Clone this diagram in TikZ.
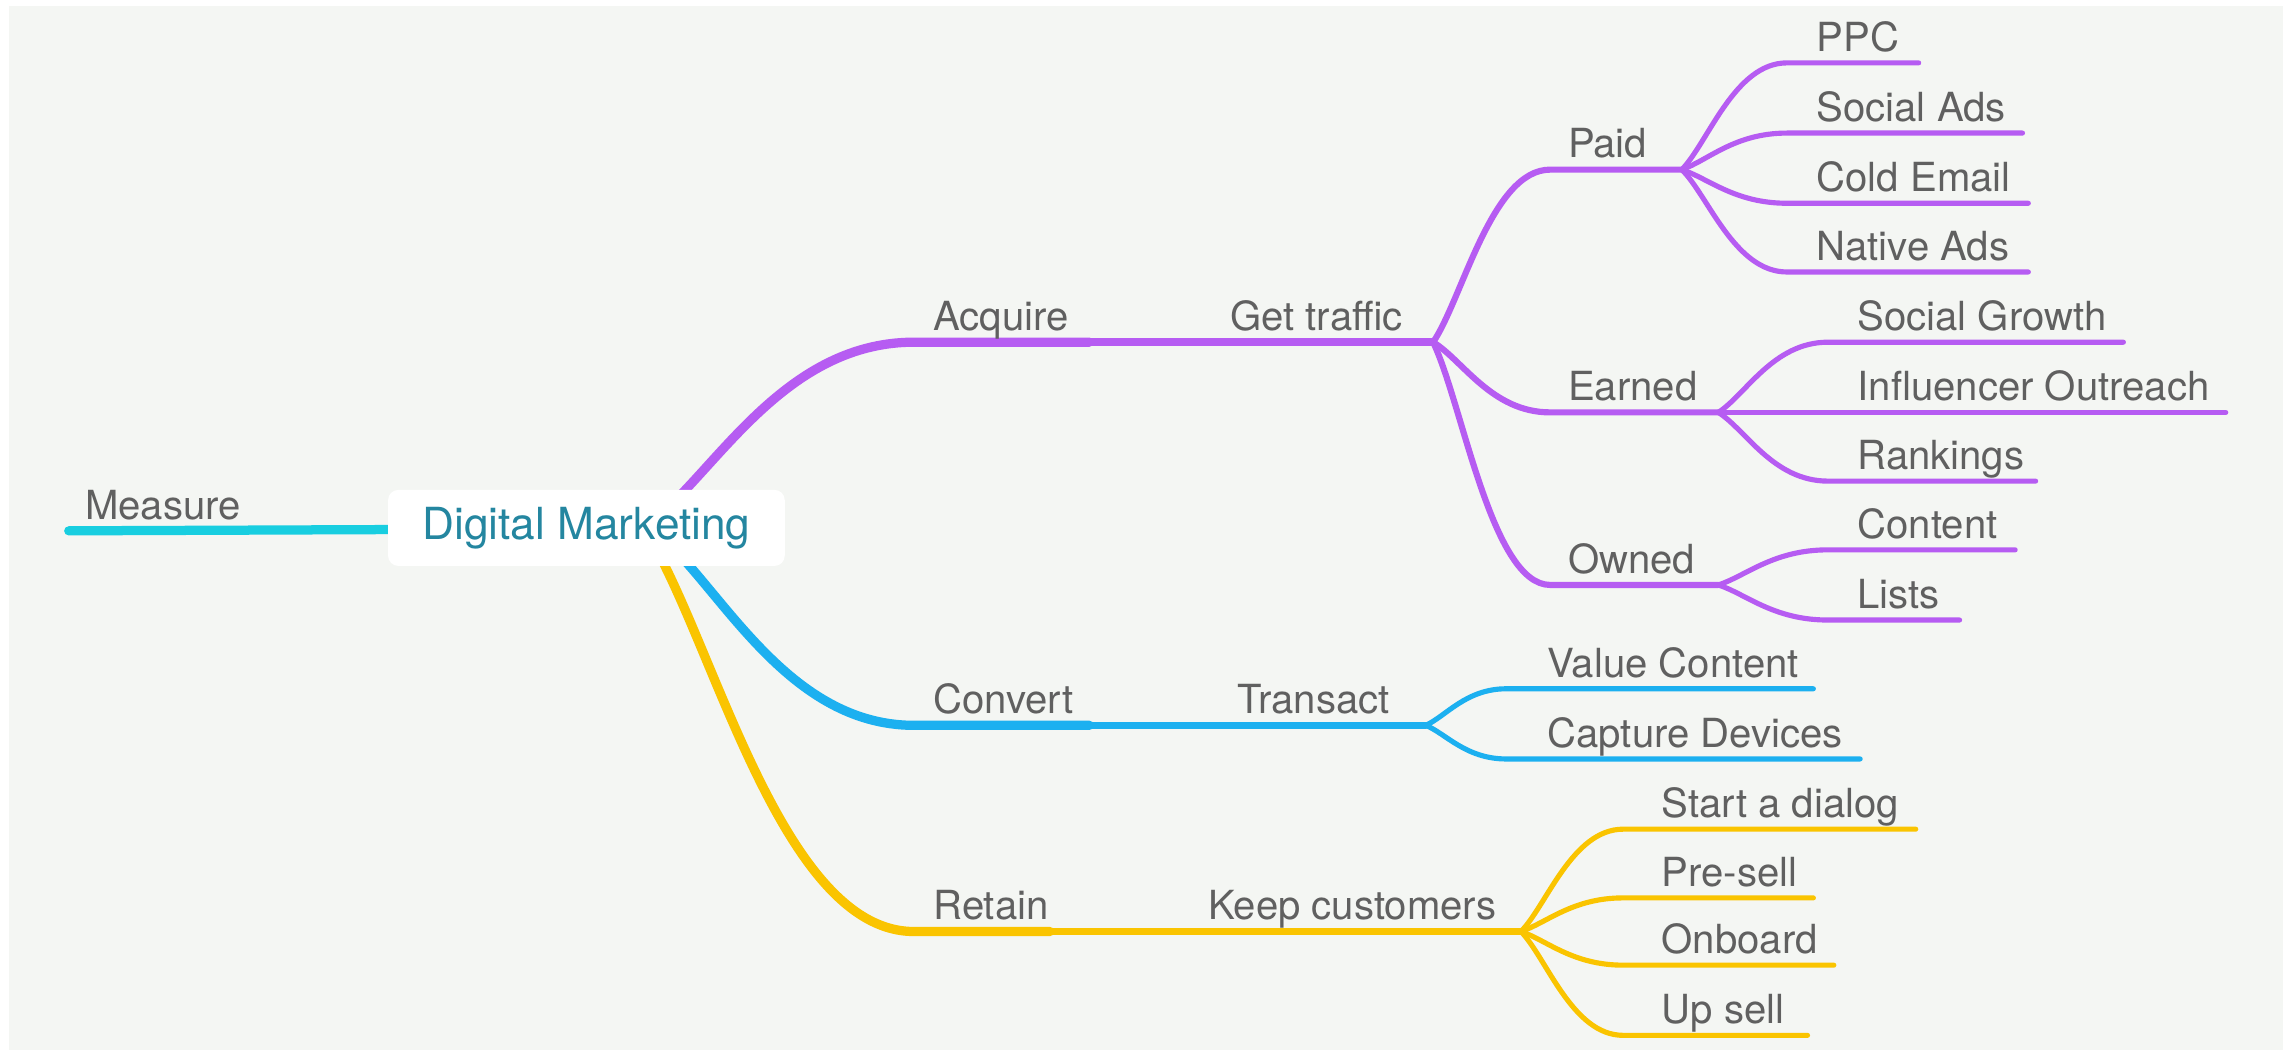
\documentclass[tikz,border=0pt]{standalone}
\usepackage{fontspec}
\setmainfont{TeX Gyre Heros}
\usetikzlibrary{calc}
\definecolor{cfondo}{RGB}{244,246,243}
\definecolor{cacq}{RGB}{182,92,242}
\definecolor{cconv}{RGB}{28,176,240}
\definecolor{cret}{RGB}{250,196,0}
\definecolor{cmed}{RGB}{24,206,224}
\definecolor{ctexto}{RGB}{96,96,96}
\definecolor{craiz}{RGB}{36,134,160}

\begin{document}
\begin{tikzpicture}[x=0.025cm, y=0.025cm, font=\fontsize{19.5}{22}\selectfont,
    twig/.style={to path={.. controls ($(\tikztostart)!0.25!(\tikztotarget)$)
      and ($(\tikztotarget)!0.5!(\tikztostart|-\tikztotarget)$) .. (\tikztotarget) \tikztonodes}},
    tronco/.style={line width=4.5pt, line cap=round},
    rama/.style={line width=3.6pt, line cap=round},
    sub/.style={line width=3pt, line cap=round},
    hoja/.style={line width=2.5pt, line cap=round},
    etiq/.style={anchor=base west, inner sep=0pt, text=ctexto},
    raiz/.style={fill=white, rounded corners=5pt, minimum width=6.78cm, minimum height=1.3cm,
      text=craiz, font=\fontsize{21.5}{24}\selectfont}]

  % --- Fondo ---
  \useasboundingbox (0,0) rectangle (1568,718);
  \fill[white] (0,0) rectangle (1568,718);
  \fill[cfondo] (6,0) rectangle (1561,714);

  % --- Puntos de la rama Acquire ---
  \coordinate (acq0) at (440,357);
  \coordinate (acq1) at (625,484);
  \coordinate (acq2) at (745,484);
  \coordinate (gt1) at (980,484);
  \coordinate (paid0) at (1060,602);   \coordinate (paid1) at (1150,602);
  \coordinate (earn0) at (1060,436);   \coordinate (earn1) at (1175,436);
  \coordinate (own0) at (1060,318);    \coordinate (own1) at (1175,318);
  \coordinate (ppc0) at (1222,675);    \coordinate (ppc1) at (1312,675);
  \coordinate (sads0) at (1222,627);   \coordinate (sads1) at (1383,627);
  \coordinate (cold0) at (1222,579);   \coordinate (cold1) at (1387,579);
  \coordinate (nads0) at (1222,532);   \coordinate (nads1) at (1387,532);
  \coordinate (sgr0) at (1250,484);    \coordinate (sgr1) at (1452,484);
  \coordinate (infl1) at (1522,436);
  \coordinate (rank0) at (1250,389);   \coordinate (rank1) at (1392,389);
  \coordinate (cont0) at (1250,342);   \coordinate (cont1) at (1378,342);
  \coordinate (list0) at (1250,294);   \coordinate (list1) at (1340,294);

  % --- Puntos de Convert y Retain ---
  \coordinate (conv0) at (445,357);
  \coordinate (conv1) at (625,222);
  \coordinate (conv2) at (745,222);
  \coordinate (tr1) at (975,222);
  \coordinate (val0) at (1030,247);    \coordinate (val1) at (1240,247);
  \coordinate (cap0) at (1030,199);    \coordinate (cap1) at (1272,199);
  \coordinate (ret0) at (440,357);
  \coordinate (ret1) at (625,81);
  \coordinate (ret2) at (718,81);
  \coordinate (kc1) at (1040,81);
  \coordinate (dlg0) at (1110,151);    \coordinate (dlg1) at (1310,151);
  \coordinate (pre0) at (1110,104);    \coordinate (pre1) at (1240,104);
  \coordinate (onb0) at (1110,58);     \coordinate (onb1) at (1254,58);
  \coordinate (up0) at (1110,10);      \coordinate (up1) at (1236,10);

  % --- Measure ---
  \coordinate (med0) at (47,355);
  \coordinate (med1) at (300,356);
  \draw[tronco, cmed] (med0) -- (med1);
  \node[etiq] (measure) at (58,363) {Measure};

  % --- Acquire (morado) ---
  \draw[tronco, cacq] (acq0) to[twig] (acq1) -- (acq2);
  \draw[rama, cacq] (acq2) -- (gt1);
  \draw[sub, cacq] (gt1) to[twig] (paid0) -- (paid1);
  \draw[sub, cacq] (gt1) to[twig] (earn0) -- (earn1);
  \draw[sub, cacq] (gt1) to[twig] (own0) -- (own1);
  \foreach \h in {ppc, sads, cold, nads}
    \draw[hoja, cacq] (paid1) to[twig] (\h0) -- (\h1);
  \foreach \h in {sgr, rank}
    \draw[hoja, cacq] (earn1) to[twig] (\h0) -- (\h1);
  \draw[hoja, cacq] (earn1) -- (infl1);
  \foreach \h in {cont, list}
    \draw[hoja, cacq] (own1) to[twig] (\h0) -- (\h1);

  % --- Convert (azul) ---
  \draw[tronco, cconv] (conv0) to[twig] (conv1) -- (conv2);
  \draw[rama, cconv] (conv2) -- (tr1);
  \foreach \h in {val, cap}
    \draw[hoja, cconv] (tr1) to[twig] (\h0) -- (\h1);

  % --- Retain (amarillo) ---
  \draw[tronco, cret] (ret0) to[twig] (ret1) -- (ret2);
  \draw[rama, cret] (ret2) -- (kc1);
  \foreach \h in {dlg, pre, onb, up}
    \draw[hoja, cret] (kc1) to[twig] (\h0) -- (\h1);

  % --- Nodo central ---
  \node[raiz] (dm) at (401,357) {Digital Marketing};

  % --- Etiquetas ---
  \node[etiq] (acquire) at (638,492) {Acquire};
  \node[etiq] (gettraffic) at (841,492) {Get traffic};
  \node[etiq] (paid) at (1072,610) {Paid};
  \node[etiq] (ppc) at (1242,683) {PPC};
  \node[etiq] (socialads) at (1242,635) {Social Ads};
  \node[etiq] (coldemail) at (1242,587) {Cold Email};
  \node[etiq] (nativeads) at (1242,540) {Native Ads};
  \node[etiq] (earned) at (1072,444) {Earned};
  \node[etiq] (socialgrowth) at (1270,492) {Social Growth};
  \node[etiq] (influencer) at (1270,444) {Influencer Outreach};
  \node[etiq] (rankings) at (1270,397) {Rankings};
  \node[etiq] (owned) at (1072,326) {Owned};
  \node[etiq] (content) at (1270,350) {Content};
  \node[etiq] (lists) at (1270,302) {Lists};
  \node[etiq] (convert) at (638,230) {Convert};
  \node[etiq] (transact) at (846,230) {Transact};
  \node[etiq] (valuecontent) at (1058,255) {Value Content};
  \node[etiq] (capture) at (1058,207) {Capture Devices};
  \node[etiq] (retain) at (638,89) {Retain};
  \node[etiq] (keep) at (826,89) {Keep customers};
  \node[etiq] (dialog) at (1136,159) {Start a dialog};
  \node[etiq] (presell) at (1136,112) {Pre-sell};
  \node[etiq] (onboard) at (1136,66) {Onboard};
  \node[etiq] (upsell) at (1136,18) {Up sell};
\end{tikzpicture}
\end{document}
